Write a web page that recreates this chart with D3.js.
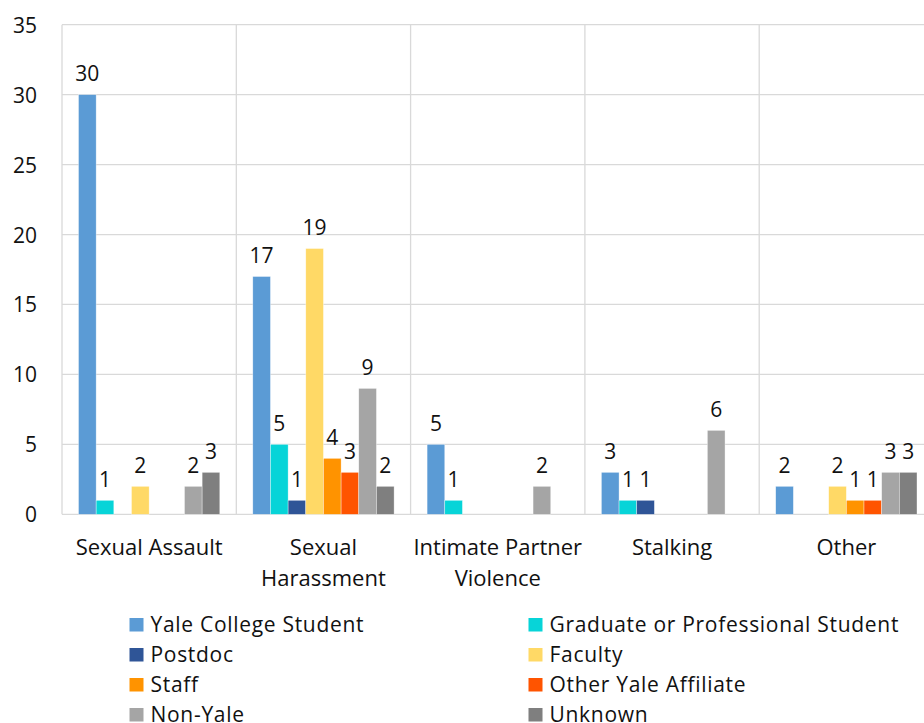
<!DOCTYPE html>
<html>
<head>
<meta charset="utf-8">
<script src="https://cdn.jsdelivr.net/npm/d3@7"></script>
<style>
body { margin: 0; background: #fff; }
text { font-family: "Open Sans", Lato, sans-serif; fill: #111; }
</style>
</head>
<body>
<div id="chartdiv"></div>
<script>
var categories = ['Sexual Assault', 'Sexual Harassment', 'Intimate Partner Violence', 'Stalking', 'Other'];
var seriesNames = ['Yale College Student', 'Graduate or Professional Student', 'Postdoc', 'Faculty',
  'Staff', 'Other Yale Affiliate', 'Non-Yale', 'Unknown'];
var seriesColors = ['#5b9bd5', '#07d4d8', '#2f5597', '#ffd966', '#ff9300', '#ff5400', '#a5a5a5', '#7f7f7f'];
var yaleCollege = [30, 17, 5, 3, 2];
var gradProf = [1, 5, 1, 1, 0];
var postdoc = [0, 1, 0, 1, 0];
var faculty = [2, 19, 0, 0, 2];
var staff = [0, 4, 0, 0, 1];
var otherAffiliate = [0, 3, 0, 0, 1];
var nonYale = [2, 9, 2, 6, 3];
var unknown = [3, 2, 0, 0, 3];
var yTicks = [0, 5, 10, 15, 20, 25, 30, 35];

var seriesValues = [yaleCollege, gradProf, postdoc, faculty, staff, otherAffiliate, nonYale, unknown];

var corewidth = 924, coreheight = 723;
var plot = {left: 62, top: 24.7, bottom: 514.3, bandW: 174.3};

var svg = d3.select('#chartdiv')
  .append('svg')
  .attr('width', corewidth)
  .attr('height', coreheight);

var x0 = d3.scaleBand().domain(categories)
  .range([plot.left, plot.left + plot.bandW * categories.length]);
var x1 = d3.scaleBand().domain(seriesNames)
  .range([16.5, plot.bandW - 16.5]);
var y = d3.scaleLinear().domain([0, 35]).range([plot.bottom, plot.top]);

// horizontal gridlines
svg.append('g').selectAll('line')
  .data(yTicks)
  .join('line')
  .attr('x1', plot.left).attr('x2', corewidth)
  .attr('y1', function(d) { return y(d); }).attr('y2', function(d) { return y(d); })
  .style('stroke', '#d9d9d9').style('stroke-width', 1.3);

// vertical category separators
svg.append('g').selectAll('line')
  .data(categories)
  .join('line')
  .attr('x1', function(d) { return x0(d); }).attr('x2', function(d) { return x0(d); })
  .attr('y1', plot.top).attr('y2', plot.bottom)
  .style('stroke', '#d9d9d9').style('stroke-width', 1.3);

// y axis labels
svg.append('g').selectAll('text')
  .data(yTicks)
  .join('text')
  .attr('x', 37)
  .attr('y', function(d) { return y(d); })
  .attr('text-anchor', 'end')
  .attr('dominant-baseline', 'central')
  .style('font-size', '21px')
  .text(function(d) { return d; });

// bars
var rows = [];
seriesNames.forEach(function(s, si) {
  categories.forEach(function(c, ci) {
    rows.push({series: s, cat: c, value: seriesValues[si][ci], color: seriesColors[si]});
  });
});
var nonzero = rows.filter(function(d) { return d.value > 0; });

svg.append('g').selectAll('rect')
  .data(nonzero)
  .join('rect')
  .attr('x', function(d) { return x0(d.cat) + x1(d.series); })
  .attr('y', function(d) { return y(d.value); })
  .attr('width', x1.bandwidth())
  .attr('height', function(d) { return y(0) - y(d.value); })
  .style('fill', function(d) { return d.color; })
  .style('stroke', '#ffffff').style('stroke-width', 0.6).style('stroke-opacity', 0.6);

svg.append('g').selectAll('text')
  .data(nonzero)
  .join('text')
  .attr('x', function(d) { return x0(d.cat) + x1(d.series) + x1.bandwidth() / 2; })
  .attr('y', function(d) { return y(d.value) - 13.5; })
  .attr('text-anchor', 'middle')
  .style('font-size', '21px')
  .text(function(d) { return d.value; });

// category labels, wrapped to band width
var xl = svg.append('g').selectAll('text')
  .data(categories)
  .join('text')
  .attr('x', function(d) { return x0(d) + x0.bandwidth() / 2; })
  .attr('y', 554.5)
  .attr('text-anchor', 'middle')
  .style('font-size', '22px');

xl.each(function(d) {
  var t = d3.select(this), words = d.split(' '), line = [];
  var ts = t.append('tspan').attr('x', t.attr('x')).attr('dy', 0);
  words.forEach(function(w) {
    line.push(w);
    ts.text(line.join(' '));
    if (ts.node().getComputedTextLength() > 176 && line.length > 1) {
      line.pop();
      ts.text(line.join(' '));
      line = [w];
      ts = t.append('tspan').attr('x', t.attr('x')).attr('dy', 31).text(w);
    }
  });
});

// legend, two columns
var legend = svg.append('g').selectAll('g')
  .data(seriesNames)
  .join('g')
  .attr('transform', function(d, i) {
    return 'translate(' + (i % 2 ? 528.5 : 129.5) + ',' + (631.5 + Math.floor(i / 2) * 30) + ')';
  });

legend.append('rect')
  .attr('x', 0).attr('y', -13.5)
  .attr('width', 14).attr('height', 13.5)
  .style('fill', function(d, i) { return seriesColors[i]; });

legend.append('text')
  .attr('x', 21)
  .style('font-size', '21px')
  .style('letter-spacing', '0.7px')
  .text(function(d) { return d; });
</script>
</body>
</html>
